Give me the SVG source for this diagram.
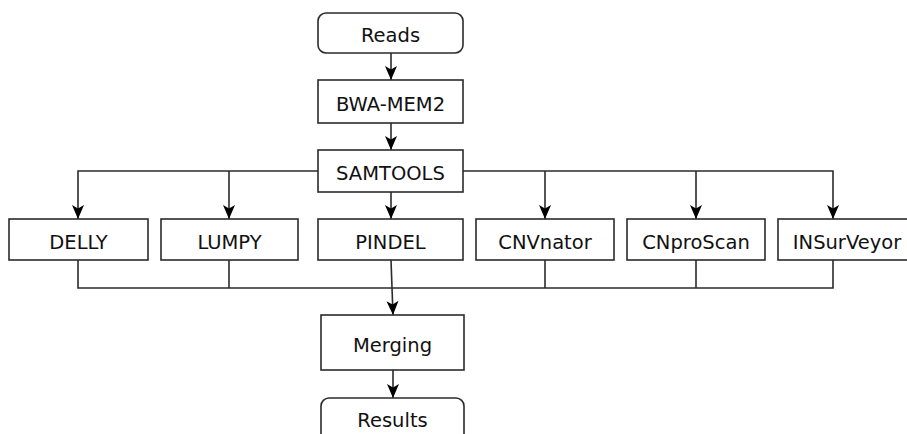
<svg xmlns="http://www.w3.org/2000/svg" width="907" height="434" viewBox="0 0 907 434">
  <style>
    .box { fill: #ffffff; stroke: #2b2b2b; stroke-width: 1.6; }
    .lbl { font-family: "DejaVu Sans", Verdana, sans-serif; font-size: 19.5px; fill: #111111; text-anchor: middle; }
    .edge { fill: none; stroke: #2b2b2b; stroke-width: 1.6; }
  </style>
  <defs>
    <marker id="arrow" markerUnits="userSpaceOnUse" markerWidth="15" markerHeight="13" refX="14" refY="6" orient="auto">
      <path d="M0,0 L14,6 L0,12 L3.5,6 z" fill="#000000"/>
    </marker>
  </defs>
  <rect width="907" height="434" fill="#ffffff"/>

  <!-- connectors -->
  <g id="connectors">
    <path class="edge" d="M391,53 V80" marker-end="url(#arrow)"/>
    <path class="edge" d="M391,123 V150" marker-end="url(#arrow)"/>
    <path class="edge" d="M391,192 V219" marker-end="url(#arrow)"/>
    <path class="edge" d="M318,171 H78 V219" marker-end="url(#arrow)"/>
    <path class="edge" d="M229,171 V219" marker-end="url(#arrow)"/>
    <path class="edge" d="M463,171 H833 V219" marker-end="url(#arrow)"/>
    <path class="edge" d="M545,171 V219" marker-end="url(#arrow)"/>
    <path class="edge" d="M696,171 V219" marker-end="url(#arrow)"/>
    <path class="edge" d="M78,260 V288 H833 V260"/>
    <path class="edge" d="M229,260 V288"/>
    <path class="edge" d="M545,260 V288"/>
    <path class="edge" d="M696,260 V288"/>
    <path class="edge" d="M391,260 L393,315" marker-end="url(#arrow)"/>
    <path class="edge" d="M393,370 V398" marker-end="url(#arrow)"/>
  </g>

  <g id="reads">
    <rect class="box" x="318" y="13" width="145" height="40" rx="8"/>
    <text class="lbl" x="390.5" y="42">Reads</text>
  </g>
  <g id="bwa-mem2">
    <rect class="box" x="318" y="80" width="145" height="43"/>
    <text class="lbl" x="390.5" y="111">BWA-MEM2</text>
  </g>
  <g id="samtools">
    <rect class="box" x="318" y="150" width="145" height="42"/>
    <text class="lbl" x="390.5" y="180">SAMTOOLS</text>
  </g>
  <g id="delly">
    <rect class="box" x="9" y="219" width="139" height="41"/>
    <text class="lbl" x="78.5" y="249">DELLY</text>
  </g>
  <g id="lumpy">
    <rect class="box" x="161" y="219" width="137" height="41"/>
    <text class="lbl" x="229.5" y="249">LUMPY</text>
  </g>
  <g id="pindel">
    <rect class="box" x="318" y="219" width="145" height="41"/>
    <text class="lbl" x="390.5" y="249">PINDEL</text>
  </g>
  <g id="cnvnator">
    <rect class="box" x="476" y="219" width="138" height="41"/>
    <text class="lbl" x="545" y="249">CNVnator</text>
  </g>
  <g id="cnproscan">
    <rect class="box" x="627" y="219" width="138" height="41"/>
    <text class="lbl" x="696" y="249">CNproScan</text>
  </g>
  <g id="insurveyor">
    <rect class="box" x="778" y="219" width="140" height="41"/>
    <text class="lbl" x="847" y="249">INSurVeyor</text>
  </g>
  <g id="merging">
    <rect class="box" x="321" y="315" width="143" height="55"/>
    <text class="lbl" x="392.5" y="352">Merging</text>
  </g>
  <g id="results">
    <rect class="box" x="321" y="398" width="143" height="50" rx="8"/>
    <text class="lbl" x="392.5" y="427">Results</text>
  </g>
</svg>
